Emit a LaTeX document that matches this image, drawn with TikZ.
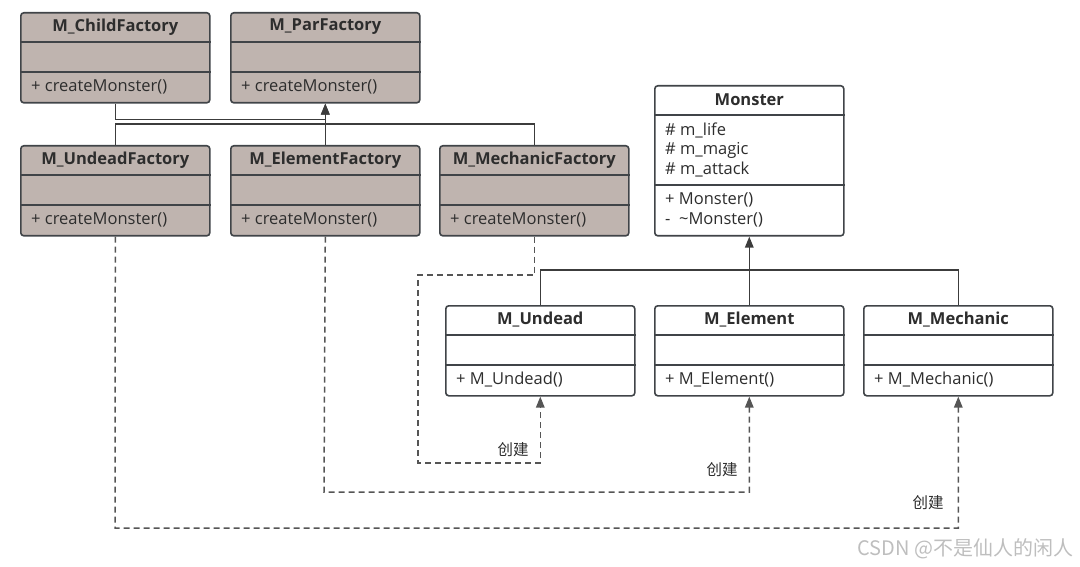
\documentclass[tikz,border=0pt]{standalone}
\usepackage{fontspec}
\setmainfont{Open Sans}
\newfontfamily\cjk{Noto Sans CJK SC}
\usetikzlibrary{arrows.meta}
\definecolor{boxfill}{RGB}{191,180,175}
\definecolor{boxline}{RGB}{64,68,72}
\definecolor{txt}{RGB}{45,45,45}
\definecolor{conncol}{RGB}{60,60,60}
\definecolor{dashcol}{RGB}{85,85,85}
\definecolor{wm}{RGB}{190,190,190}
\newcommand\divline[2]{\draw[boxline,line width=1.6pt] ([yshift=-#2pt]#1.north west) -- ([yshift=-#2pt]#1.north east);}
\newcommand\clstitle[2]{\node[font=\fontsize{16.5}{18}\selectfont\bfseries,text=txt] at ([yshift=-15pt]#1.north) {#2};}
\newcommand\clsline[3]{\node[anchor=west,font=\fontsize{16.5}{18}\selectfont,text=txt,inner sep=0pt] at ([xshift=11pt,yshift=-#2pt]#1.north west) {#3};}
\begin{document}
\begin{tikzpicture}[x=1pt,y=-1pt,
  classbox/.style={draw=boxline,line width=1.6pt,rounded corners=3pt,minimum width=189pt,inner sep=0pt,anchor=north west},
  factory/.style={classbox,fill=boxfill,minimum height=90pt},
  plain/.style={classbox,fill=white,minimum height=90pt},
  conn/.style={draw=conncol,line width=1.6pt},
  dep/.style={draw=dashcol,line width=1.5pt,dash pattern=on 6pt off 4pt},
  tip/.style={-{Triangle[length=11pt,width=8.5pt]}},
  lbl/.style={font=\cjk\fontsize{15.5}{17}\selectfont,text=txt}]
\useasboundingbox (0,0) rectangle (1080,567);
% factories
\node[factory] (cf) at (20,12) {};
\node[factory] (pf) at (230,12) {};
\node[factory] (uf) at (20,145) {};
\node[factory] (ef) at (230,145) {};
\node[factory] (mf) at (439,145) {};
\foreach \n/\t in {cf/M\_ChildFactory,pf/M\_ParFactory,uf/M\_UndeadFactory,ef/M\_ElementFactory,mf/M\_MechanicFactory}{
  \divline{\n}{30}\divline{\n}{60}
  \clstitle{\n}{\t}
  \clsline{\n}{75}{+ createMonster()}
}
% monster
\node[classbox,fill=white,minimum height=150pt] (mon) at (654,85) {};
\divline{mon}{30}\divline{mon}{100}
\clstitle{mon}{Monster}
\clsline{mon}{45}{\# m\_life}
\clsline{mon}{65}{\# m\_magic}
\clsline{mon}{85}{\# m\_attack}
\clsline{mon}{115}{+ Monster()}
\clsline{mon}{135}{-\ \ \textasciitilde Monster()}
% products
\node[plain] (mu) at (445,305) {};
\node[plain] (me) at (654,305) {};
\node[plain] (mm) at (863,305) {};
\foreach \n/\t in {mu/M\_Undead,me/M\_Element,mm/M\_Mechanic}{
  \divline{\n}{30}\divline{\n}{60}
  \clstitle{\n}{\t}
  \clsline{\n}{75}{+ \t()}
}
% inheritance factories
\draw[conn,tip] (cf.south) -- ++(0,16) -| (pf.south);
\draw[conn] (uf.north) -- ++(0,-21) -| (mf.north);
\draw[conn,tip] (ef.north) -- (pf.south);
% inheritance monsters
\draw[conn] (mu.north) -- ++(0,-35) -| (mm.north);
\draw[conn,tip] (me.north) -- (mon.south);
% dependencies
\coordinate (d1) at (418,275);
\coordinate (d2) at (418,463);
\coordinate (e1) at (324,492);
\coordinate (u1) at (115,528);
\draw[dep,tip] (mf.south) |- (d1) -- (d2) -| (mu.south);
\draw[dep,tip] (ef.south) -- (e1) -| (me.south);
\draw[dep,tip] (uf.south) -- (u1) -| (mm.south);
\node[lbl] (l1) at (513,450) {创建};
\node[lbl] (l2) at (722,470) {创建};
\node[lbl] (l3) at (928,503) {创建};
\node[anchor=east,font=\cjk\fontsize{20}{22}\selectfont,text=wm] (wmk) at (1077,549) {CSDN @不是仙人的闲人};
\end{tikzpicture}
\end{document}
